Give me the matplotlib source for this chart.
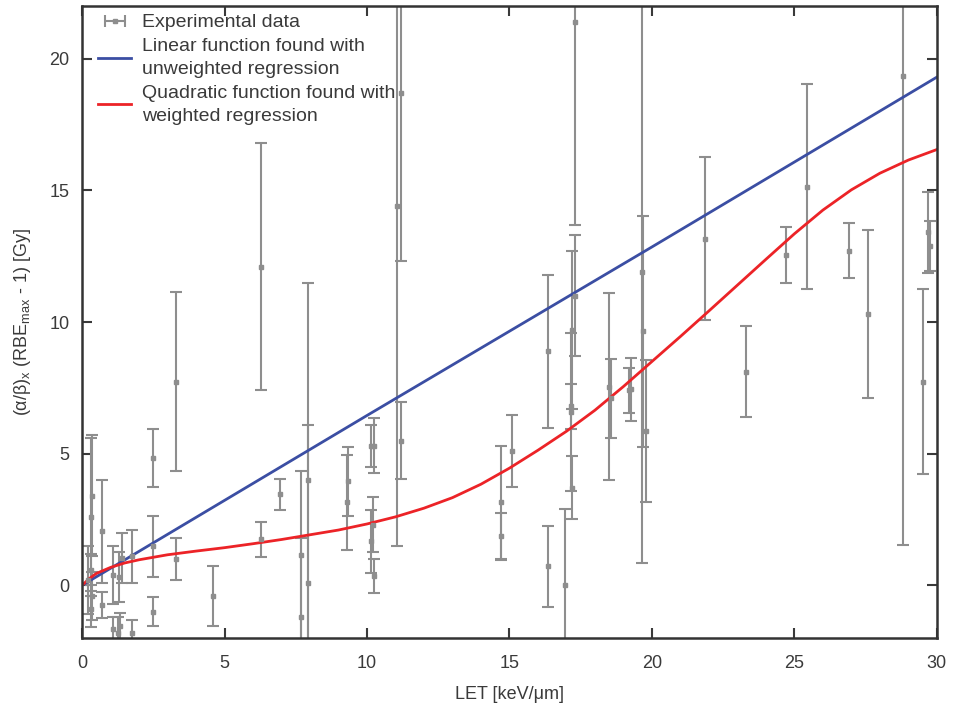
import matplotlib
matplotlib.use("Agg")
import matplotlib.pyplot as plt
import numpy as np

# measured points: LET, (alpha/beta)_x (RBEmax - 1) and its error
let_kev = [0.35, 0.3, 0.3, 0.35, 0.3, 0.2, 0.7, 0.7, 1.1, 1.1,
           1.3, 1.4, 1.35, 1.25, 1.75, 1.75, 2.5, 2.5, 2.5, 3.3,
           3.3, 4.6, 6.28, 6.28, 6.95, 7.7, 7.7, 7.93, 7.93, 9.35,
           9.3, 10.15, 10.25, 10.2, 10.15, 10.25, 11.05, 11.2, 11.2, 14.7,
           14.7, 15.1, 16.35, 16.35, 16.95, 17.3, 17.3, 17.2, 17.15, 17.15,
           17.2, 18.5, 18.55, 19.25, 19.2, 19.65, 19.7, 19.8, 21.85, 23.3,
           24.7, 25.45, 26.9, 27.6, 28.8, 29.5, 29.7, 29.75]
ab_rbe = [3.4, 2.6, 0.6, -0.4, -0.9, 0.2, 2.05, -0.75, 0.4, -1.65,
          0.3, 1.05, -1.55, -1.8, 1.1, -1.8, 4.85, 1.48, -1.0, 7.74,
          1.0, -0.4, 12.1, 1.75, 3.45, 1.15, -1.2, 4.0, 0.1, 3.95,
          3.15, 5.3, 5.3, 2.3, 1.67, 0.34, 14.4, 18.7, 5.5, 3.15,
          1.86, 5.1, 8.88, 0.72, 0.0, 21.4, 11.0, 9.7, 6.8, 6.6,
          3.7, 7.55, 7.1, 7.44, 7.4, 11.88, 9.64, 5.85, 13.17, 8.12,
          12.56, 15.14, 12.71, 10.3, 19.35, 7.74, 13.4, 12.87]
ab_err = [2.3, 3.0, 0.6, 0.9, 0.7, 1.3, 1.95, 0.5, 1.1, 0.45,
          0.95, 0.95, 0.5, 0.6, 1.0, 0.5, 1.1, 1.15, 0.55, 3.4,
          0.8, 1.15, 4.7, 0.67, 0.6, 3.2, 3.0, 7.5, 6.0, 1.3,
          1.8, 0.8, 1.05, 1.05, 1.2, 0.65, 12.9, 6.4, 1.45, 2.15,
          0.9, 1.35, 2.9, 1.55, 2.9, 7.7, 2.3, 3.0, 0.85, 3.0,
          1.2, 3.55, 1.5, 1.2, 0.85, 11.05, 4.4, 2.7, 3.1, 1.73,
          1.06, 3.9, 1.05, 3.2, 17.8, 3.53, 1.55, 0.95]

# unweighted linear fit
lin_x = [0, 10, 20, 30]
lin_y = [0, 6.45, 12.85, 19.3]

# weighted fit curve
quad_x = [0, 0.25, 0.5, 1, 1.5, 2, 3, 4, 5, 6, 7, 8, 9, 10,
          11, 12, 13, 14, 15, 16, 17, 18, 19, 20, 21, 22,
          23, 24, 25, 26, 27, 28, 29, 30]
quad_y = [0, 0.25, 0.45, 0.68, 0.85, 0.97, 1.16, 1.3, 1.43, 1.58, 1.74, 1.92, 2.1, 2.33,
          2.6, 2.93, 3.33, 3.84, 4.45, 5.13, 5.85, 6.65, 7.55, 8.5, 9.45, 10.42,
          11.4, 12.38, 13.35, 14.25, 15.02, 15.65, 16.15, 16.55]

plt.rcParams['font.family'] = ['Liberation Sans', 'DejaVu Sans']
plt.rcParams['mathtext.fontset'] = 'custom'
plt.rcParams['mathtext.rm'] = 'Liberation Sans'

fig = plt.figure(figsize=(9.56, 7.07), dpi=100)
ax = fig.add_axes([0.0858, 0.0976, 0.8942, 0.8939])

gray = '#8e8e8e'
txt = '#3a3a3a'
ax.errorbar(let_kev, ab_rbe, yerr=ab_err, fmt='s', color=gray, ecolor=gray,
            markersize=2.5, elinewidth=1.5, capsize=4, capthick=1.5)
# legend handle drawn horizontally
h_data = ax.errorbar([np.nan], [np.nan], xerr=[1], fmt='s', color=gray, ecolor=gray,
                     markersize=2.5, elinewidth=1.5, capsize=4, capthick=1.5)
h_lin, = ax.plot(lin_x, lin_y, color='#3b4ea3', lw=2.0)
h_quad, = ax.plot(quad_x, quad_y, color='#ec2327', lw=2.0)

ax.set_xlim(0, 30)
ax.set_ylim(-2, 22)
ax.set_xticks(range(0, 31, 5))
ax.set_yticks(range(0, 21, 5))
ax.tick_params(direction='in', length=7, width=1.5, top=True, right=True,
               labelsize=13, colors=txt)
ax.tick_params(axis='x', pad=12)
ax.tick_params(axis='y', pad=9)
for s in ax.spines.values():
    s.set_linewidth(1.8)
    s.set_color('#333333')

ax.set_xlabel('LET [keV/\u03bcm]', fontsize=13, color=txt, labelpad=10)
ax.set_ylabel('(\u03b1/\u03b2)$_\\mathregular{x}$ (RBE$_\\mathregular{max}$ - 1) [Gy]',
              fontsize=13, color=txt, labelpad=12)

leg = ax.legend([h_data, h_lin, h_quad],
                ['Experimental data',
                 'Linear function found with\nunweighted regression',
                 'Quadratic function found with\nweighted regression'],
                loc='upper left', frameon=False, fontsize=14,
                handlelength=1.7, handletextpad=0.55, labelspacing=0.35,
                borderaxespad=0.0, bbox_to_anchor=(0.01, 1.0))
for t in leg.get_texts():
    t.set_color(txt)
    t.set_linespacing(1.45)

fig.savefig('out.png', dpi=100)
